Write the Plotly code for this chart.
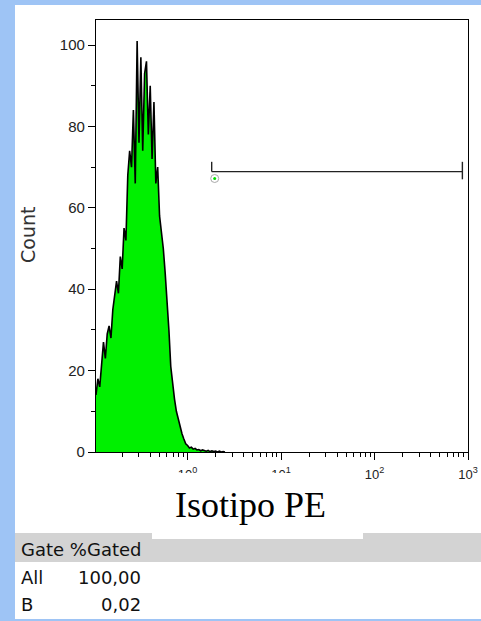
import numpy as np
import plotly.graph_objects as go

# ---------------- data ----------------
# histogram: log10(PE intensity) bin start, bin width, counts
log_start = -0.98
log_step = 0.02
counts = [14, 18, 16, 22, 27, 23, 29, 31, 28, 35,
          38, 42, 39, 48, 45, 55, 52, 68, 74, 70,
          84, 66, 101, 76, 97, 74, 93, 96, 78, 90,
          72, 86, 66, 70, 58, 54, 50, 44, 38, 30,
          21, 16, 13, 10, 8, 6, 4.5, 3.2, 2, 1.6,
          1, 1.2, 0.7, 0.9, 0.5, 0.6, 0.3, 0.5, 0.3, 0.2,
          0.4, 0.1, 0.3, 0.1, 0.2, 0, 0.2, 0, 0.1, 0]

# gate "B"
gate_low = 1.81
gate_high = 871
gate_y = 68.9
gate_cap_top = 71.3
gate_cap_bottom = 67.0
gate_marker_x = 1.95
gate_marker_y = 67.2

# axes
y_major = [0, 20, 40, 60, 80, 100]
y_minor = [10, 30, 50, 70, 90]
x_major = [1, 10, 100, 1000]
x_major_text = ["10<sup>0</sup>", "10<sup>1</sup>", "10<sup>2</sup>", "10<sup>3</sup>"]
x_minor_digits = [2, 3, 4, 5, 6, 7, 8, 9]
x_minor_decades = [0.1, 1, 10, 100]

x_title = "Isotipo PE"
y_title = "Count"

table_header = "Gate %Gated"
table_gates = ["All", "B"]
table_pct = ["100,00", "0,02"]

# ---------------- layout geometry (pixels) ----------------
W, H = 481, 621
L, R, T, B = 96, 13, 20, 169
PW, PH = W - L - R, H - T - B


def px(x):
    return (x - L) / PW


def py(y):
    return (H - B - y) / PH


x_vals = [10 ** (log_start + i * log_step) for i in range(len(counts))]
x_minor = [d * dec for dec in x_minor_decades for d in x_minor_digits]

fig = go.Figure()
fig.add_trace(go.Scatter(
    x=x_vals, y=counts, mode="lines",
    line=dict(color="black", width=1.6),
    fill="tozeroy", fillcolor="#00f000",
    hoverinfo="skip", showlegend=False))

# gate bar
fig.add_trace(go.Scatter(
    x=[gate_low, gate_high, None, gate_low, gate_low, None, gate_high, gate_high],
    y=[gate_y, gate_y, None, gate_cap_top, gate_y, None, gate_cap_top, gate_cap_bottom],
    mode="lines", line=dict(color="#222222", width=1.4),
    hoverinfo="skip", showlegend=False))
fig.add_trace(go.Scatter(
    x=[gate_marker_x], y=[gate_marker_y], mode="markers",
    marker=dict(size=8, color="rgba(255,255,255,0)", line=dict(color="#aaaaaa", width=1)),
    hoverinfo="skip", showlegend=False))
fig.add_trace(go.Scatter(
    x=[gate_marker_x], y=[gate_marker_y], mode="markers",
    marker=dict(size=3, color="#00e000"),
    hoverinfo="skip", showlegend=False))

shapes = [
    # white panel
    dict(type="rect", xref="paper", yref="paper", x0=px(15), x1=px(490), y0=py(619), y1=py(5),
         fillcolor="white", line=dict(width=0), layer="below"),
    # grey table header
    dict(type="rect", xref="paper", yref="paper", x0=px(15), x1=px(490), y0=py(562), y1=py(533),
         fillcolor="#d3d3d3", line=dict(width=0), layer="below"),
    # white title box
    dict(type="rect", xref="paper", yref="paper", x0=px(152), x1=px(363), y0=py(539), y1=py(473),
         fillcolor="white", line=dict(width=0), layer="above"),
]

ann = []
ann.append(dict(text=x_title, xref="paper", yref="paper", x=px(250), y=py(505),
                xanchor="center", yanchor="middle", showarrow=False,
                font=dict(family="Liberation Serif, Times New Roman, serif", size=36, color="black")))
ann.append(dict(text=y_title, xref="paper", yref="paper", x=px(28), y=py(235),
                xanchor="center", yanchor="middle", showarrow=False, textangle=-90,
                font=dict(family="DejaVu Sans, sans-serif", size=19, color="#333333")))
tfont = dict(family="DejaVu Sans, sans-serif", size=18, color="#111111")
ann.append(dict(text=table_header, xref="paper", yref="paper", x=px(19), y=py(549),
                xanchor="left", yanchor="middle", showarrow=False, font=tfont))
row_y = [577, 604]
for g, p, ry in zip(table_gates, table_pct, row_y):
    ann.append(dict(text=g, xref="paper", yref="paper", x=px(19), y=py(ry),
                    xanchor="left", yanchor="middle", showarrow=False, font=tfont))
    ann.append(dict(text=p, xref="paper", yref="paper", x=px(143), y=py(ry),
                    xanchor="right", yanchor="middle", showarrow=False, font=tfont))

fig.update_layout(
    width=W, height=H,
    margin=dict(l=L, r=R, t=T, b=B, pad=0),
    paper_bgcolor="#9ec4f5", plot_bgcolor="white",
    shapes=shapes, annotations=ann,
    xaxis=dict(type="log", range=[-0.98, 3.0], showgrid=False, zeroline=False, automargin=False,
               showline=True, linecolor="black", linewidth=1.3, mirror=True,
               ticks="outside", ticklen=7, tickcolor="black", tickwidth=1,
               tickvals=x_major, ticktext=x_major_text, ticklabelstandoff=3,
               tickfont=dict(family="Liberation Sans, Arial, sans-serif", size=13, color="#222222"),
               minor=dict(tickvals=x_minor, ticks="outside", ticklen=4, tickcolor="black", tickwidth=1)),
    yaxis=dict(range=[0, PH / 4.07], showgrid=False, zeroline=False, automargin=False,
               showline=True, linecolor="black", linewidth=1.3, mirror=True,
               ticks="outside", ticklen=7, tickcolor="black", tickwidth=1,
               tickvals=y_major,
               tickfont=dict(family="Liberation Sans, Arial, sans-serif", size=15, color="#222222"),
               minor=dict(tickvals=y_minor, ticks="outside", ticklen=4, tickcolor="black", tickwidth=1)),
)

fig.write_html("out.html")
